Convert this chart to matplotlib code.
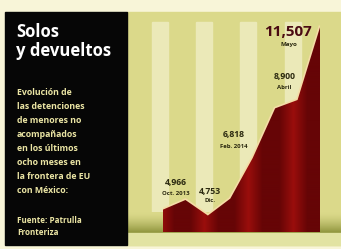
import matplotlib
matplotlib.use("Agg")
import matplotlib.pyplot as plt
from matplotlib.patches import Rectangle
import numpy as np

plt.rcParams["font.family"] = ["Open Sans", "DejaVu Sans"]

# monthly detentions, Oct 2013 - May 2014
months = ["Oct.", "Nov.", "Dic.", "Ene.", "Feb.", "Mar.", "Abr.", "May."]
values = [4966, 5310, 4753, 5360, 6818, 8600, 8900, 11507]

# labelled points: index, number, caption
label_idx = [0, 2, 4, 6, 7]
label_num = ["4,966", "4,753", "6,818", "8,900", "11,507"]
label_sub = ["Oct. 2013", "Dic.", "Feb. 2014", "Abril", "Mayo"]

title = "Solos\ny devueltos"
desc_lines = ["Evolución de", "las detenciones", "de menores no", "acompañados",
              "en los últimos", "ocho meses en", "la frontera de EU", "con México:"]
source_lines = ["Fuente: Patrulla", "Fronteriza"]

W, H = 341, 249
fig = plt.figure(figsize=(W / 100, H / 100), dpi=100)

# background layer in pixel coordinates
bg = fig.add_axes([0, 0, 1, 1])
bg.set_xlim(0, W)
bg.set_ylim(H, 0)
bg.axis("off")
bg.add_patch(Rectangle((0, 0), W, H, color="#f8f5d8", zorder=0))
bg.add_patch(Rectangle((127, 12), W - 127, 233, color="#dbd98a", zorder=1))
stripes = [152, 196, 240, 285]
for s in stripes:
    bg.add_patch(Rectangle((s, 22), 16, 210, color="#ebe9b8", zorder=2))

# olive ground shading above baseline
g = np.linspace(0, 1, 30)[:, None]
c0 = np.array([0xdb, 0xd9, 0x8a]) / 255
c1 = np.array([0x8e, 0x94, 0x3c]) / 255
grad = (c0 * (1 - g ** 1.5) + c1 * g ** 1.5)[:, None, :].repeat(2, axis=1)
bg.imshow(grad, extent=(127, W, 233, 212), aspect="auto", zorder=3)
bg.add_patch(Rectangle((127, 233), W - 127, 12, color="#e2e3a3", zorder=3))

# black text panel
bg.add_patch(Rectangle((5, 12), 122, 233, color="#060606", zorder=4))
bg.text(16, 23, title, color="white", fontsize=12, fontweight="bold",
        va="top", ha="left", linespacing=1.05, zorder=5)
for i, line in enumerate(desc_lines):
    bg.text(17, 92 + i * 14, line, color="#ebe5a4", fontsize=6.3,
            fontweight="bold", va="center", ha="left", zorder=5)
for i, line in enumerate(source_lines):
    bg.text(17, 220 + i * 12, line, color="#ebe5a4", fontsize=5.8,
            fontweight="bold", va="center", ha="left", zorder=5)

# data axes
x = np.arange(len(values))
ax = fig.add_axes([163 / W, (H - 232) / H, 157 / W, 220 / H])
ax.patch.set_alpha(0)
ax.axis("off")
y0, y1 = 4162, 12058
ax.set_xlim(0, len(values) - 1)
ax.set_ylim(y0, y1)

ax.plot(x, values, color="#f5dca6", lw=2.4, zorder=1, solid_joinstyle="round")
poly = ax.fill(np.r_[x, x[-1], x[0]], np.r_[values, y0, y0],
               facecolor="none", edgecolor="none")[0]

# striped dark red fill
nx, ny = 157, 220
px = 163 + np.arange(nx)
light = np.zeros(nx)
for s in stripes:
    light = np.maximum(light, np.clip(1 - np.abs(px - (s + 8)) / 14, 0, 1))
red_d = np.array([0x66, 0x05, 0x06]) / 255
red_l = np.array([0x9a, 0x0e, 0x0c]) / 255
row = red_d * (1 - light[:, None]) + red_l * light[:, None]
depth = np.linspace(0, 1, ny)
dark = np.clip((depth - 0.92) / 0.08, 0, 1)[:, None, None]
img = row[None, :, :] * (1 - 0.8 * dark)
im = ax.imshow(img, extent=(0, len(values) - 1, y1, y0), aspect="auto",
               origin="upper", zorder=2)
im.set_clip_path(poly)
ax.set_ylim(y0, y1)

offs = {0: (13, 27, 16), 2: (2, 24, 15), 4: (-19, 23, 11), 6: (-13, 23, 12)}
for idx, num, sub in zip(label_idx, label_num, label_sub):
    if idx == 7:
        ax.annotate(num, (idx, values[idx]), xytext=(-32 * 0.72, -5 * 0.72),
                    textcoords="offset points", ha="center", va="center",
                    fontsize=11, fontweight="bold", color="#4a0a12",
                    annotation_clip=False, zorder=5)
        ax.annotate(sub, (idx, values[idx]), xytext=(-31 * 0.72, -17 * 0.72),
                    textcoords="offset points", ha="center", va="center",
                    fontsize=4.5, fontweight="bold", color="#2c2a10",
                    annotation_clip=False, zorder=5)
        continue
    dx, dy1, dy2 = offs[idx]
    ax.annotate(num, (idx, values[idx]), xytext=(dx * 0.72, dy1 * 0.72),
                textcoords="offset points", ha="center", va="center",
                fontsize=6.2, fontweight="bold", color="#2c2a10",
                annotation_clip=False, zorder=5)
    ax.annotate(sub, (idx, values[idx]), xytext=(dx * 0.72, dy2 * 0.72),
                textcoords="offset points", ha="center", va="center",
                fontsize=4.3, fontweight="bold", color="#2c2a10",
                annotation_clip=False, zorder=5)

fig.savefig("out.png", dpi=100)
